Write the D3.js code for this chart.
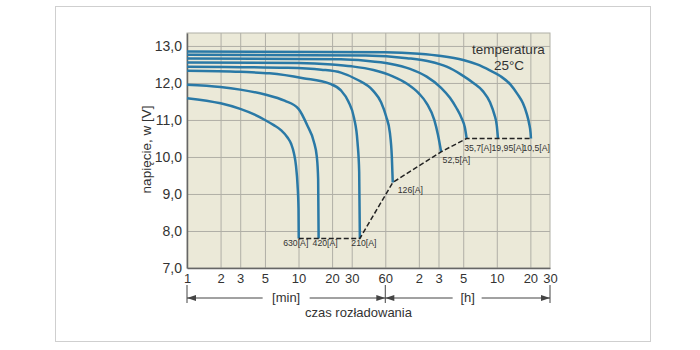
<!DOCTYPE html>
<html><head><meta charset="utf-8">
<script src="https://cdn.jsdelivr.net/npm/d3@7"></script>
<style>
html,body{margin:0;padding:0;background:#fff;}
svg{display:block;font-family:"Liberation Sans",Arial,Helvetica,sans-serif;}
</style></head><body>
<svg id="chart" width="700" height="350"></svg>
<script>
// ---- data (time in minutes, voltage in V) ----
const timeTicks = [1, 2, 3, 5, 10, 20, 30, 60, 120, 180, 300, 600, 1200, 1800];
const timeTickLabels = ["1", "2", "3", "5", "10", "20", "30", "60", "2", "3", "5", "10", "20", "30"];
const voltTicks = [7, 8, 9, 10, 11, 12, 13];
const voltTickLabels = ["7,0", "8,0", "9,0", "10,0", "11,0", "12,0", "13,0"];
const currentLabels = ["630[A]", "420[A]", "210[A]", "126[A]", "52,5[A]", "35,7[A]", "19,95[A]", "10,5[A]"];

const c630 = [[1,11.59],[2,11.45],[3,11.3],[4,11.15],[5,11.0],[6,10.86],[7,10.72],[8,10.52],[8.6,10.35],[9.1,10.1],[9.5,9.75],[9.8,9.25],[10.0,8.6],[10.05,7.8]];
const c420 = [[1,11.95],[2,11.89],[3,11.82],[5,11.69],[7.5,11.52],[10,11.3],[12,10.85],[13.7,10.42],[14.6,10.0],[15.0,9.4],[15.15,7.8]];
const c210 = [[1,12.33],[3,12.3],[5.5,12.26],[11,12.13],[19,11.98],[24,11.8],[28,11.5],[31.5,11.05],[33.8,10.4],[35,9.6],[35.5,7.8]];
const c126 = [[1,12.44],[8,12.41],[16,12.36],[24,12.28],[33,12.1],[47,11.78],[55,11.48],[61,11.1],[66,10.65],[68.7,10.0],[70,9.31]];
const c52_5 = [[1,12.55],[10,12.54],[20,12.5],[30,12.45],[47,12.35],[70,12.18],[94,11.98],[120,11.72],[141,11.45],[165,11.0],[178,10.6],[186,10.3],[190,10.14]];
const c35_7 = [[1,12.66],[24,12.64],[40,12.6],[66,12.52],[100,12.38],[141,12.17],[190,11.87],[228,11.6],[260,11.33],[290,11.05],[310,10.8],[322,10.5]];
const c19_95 = [[1,12.76],[40,12.74],[94,12.67],[150,12.58],[213,12.44],[290,12.22],[370,12.0],[450,11.78],[523,11.47],[570,11.15],[600,10.85],[615,10.5]];
const c10_5 = [[1,12.85],[60,12.83],[120,12.79],[190,12.73],[300,12.62],[400,12.5],[520,12.34],[650,12.18],[800,11.95],[920,11.7],[1030,11.45],[1110,11.18],[1170,10.9],[1205,10.65],[1215,10.5]];
const curves = [c630, c420, c210, c126, c52_5, c35_7, c19_95, c10_5];

// ---- layout ----
const svg = d3.select("#chart");
const x = d3.scaleLog().domain([1, 1800]).range([187, 550]);
const y = d3.scaleLinear().domain([7, 13.35]).range([268, 33]);
const TXT = "#333";
const BLUE = "#2a79a6";
const GRID = "#b0afa6";

// outer frame
svg.append("rect").attr("x", 55.5).attr("y", 6.5).attr("width", 595).attr("height", 335)
  .attr("fill", "none").attr("stroke", "#cfcfcf").attr("stroke-width", 1);

// plot background
svg.append("rect").attr("x", x(1)).attr("y", y(13.35)).attr("width", x(1800) - x(1)).attr("height", y(7) - y(13.35))
  .attr("fill", "#ebe9d8").attr("stroke", GRID).attr("stroke-width", 1);

// grid
const gx = svg.append("g").attr("transform", `translate(0,${y(7)})`)
  .call(d3.axisBottom(x).tickValues(timeTicks.slice(1, -1)).tickSize(-(y(7) - y(13.35))).tickFormat(""));
gx.select(".domain").remove();
gx.selectAll("line").attr("stroke", GRID).attr("stroke-width", 1);
const gy = svg.append("g").attr("transform", `translate(${x(1)},0)`)
  .call(d3.axisLeft(y).tickValues(voltTicks.slice(1)).tickSize(-(x(1800) - x(1))).tickFormat(""));
gy.select(".domain").remove();
gy.selectAll("line").attr("stroke", GRID).attr("stroke-width", 1);

// axes lines + labels
const ax = svg.append("g").attr("transform", `translate(0,${y(7)})`)
  .call(d3.axisBottom(x).tickValues(timeTicks).tickSize(0).tickPadding(6)
    .tickFormat((d, i) => timeTickLabels[i]));
ax.select(".domain").attr("stroke", "#666").attr("stroke-width", 1.5);
ax.selectAll("text").attr("font-size", 13).attr("fill", TXT).attr("font-family", null);

const ay = svg.append("g").attr("transform", `translate(${x(1)},0)`)
  .call(d3.axisLeft(y).tickValues(voltTicks).tickSize(0).tickPadding(5)
    .tickFormat((d, i) => voltTickLabels[i]));
ay.select(".domain").attr("stroke", "#666").attr("stroke-width", 1.5);
ay.selectAll("text").attr("font-size", 14).attr("fill", TXT).attr("font-family", null);

// curves
const line = d3.line().x(d => x(d[0])).y(d => y(d[1])).curve(d3.curveMonotoneX);
svg.append("g").selectAll("path").data(curves).join("path")
  .attr("d", line).attr("fill", "none").attr("stroke", BLUE).attr("stroke-width", 2.5)
  .attr("stroke-linejoin", "round");

// dashed end-point line
const ends = curves.map(c => c[c.length - 1]);
svg.append("path").attr("d", d3.line().x(d => x(d[0])).y(d => y(d[1]))(ends))
  .attr("fill", "none").attr("stroke", "#222").attr("stroke-width", 1.5).attr("stroke-dasharray", "5,2.5");

// current labels (placement offsets relative to curve end)
const place = [
  {dx: -3, dy: 7.5, a: "middle"}, {dx: 6.5, dy: 7.5, a: "middle"}, {dx: 4, dy: 7.5, a: "middle"},
  {dx: 5, dy: 10.5, a: "start"}, {dx: 1.5, dy: 11, a: "start"},
  {dx: -2.5, dy: 13, a: "start"}, {dx: -6.5, dy: 13, a: "start"}, {dx: -8.5, dy: 13, a: "start"}
];
svg.append("g").selectAll("text").data(currentLabels).join("text")
  .attr("x", (d, i) => x(ends[i][0]) + place[i].dx)
  .attr("y", (d, i) => y(ends[i][1]) + place[i].dy)
  .attr("text-anchor", (d, i) => place[i].a)
  .attr("font-size", 8.7).attr("fill", TXT).text(d => d);

// temperature note
svg.append("text").attr("x", 508.5).attr("y", 54).attr("text-anchor", "middle")
  .attr("font-size", 13.5).attr("fill", TXT).text("temperatura");
svg.append("text").attr("x", 509).attr("y", 70).attr("text-anchor", "middle")
  .attr("font-size", 13.5).attr("fill", TXT).text("25°C");

// y axis title
svg.append("text").attr("transform", `translate(151,${(y(7) + y(13.35)) / 2 - 1}) rotate(-90)`)
  .attr("text-anchor", "middle").attr("font-size", 13.5).attr("fill", TXT).text("napięcie, w [V]");

// unit arrows below the axis
const ARROWY = 298, AC = "#444";
const ga = svg.append("g");
[1, 60, 1800].forEach(t => {
  ga.append("line").attr("x1", x(t)).attr("x2", x(t)).attr("y1", 285).attr("y2", 303)
    .attr("stroke", AC).attr("stroke-width", 1);
});
function arrowSeg(xa, xb, headAt) {
  ga.append("line").attr("x1", xa).attr("x2", xb).attr("y1", ARROWY).attr("y2", ARROWY)
    .attr("stroke", AC).attr("stroke-width", 1);
  const dir = headAt === xa ? 1 : -1;
  ga.append("path").attr("d", `M${headAt},${ARROWY} L${headAt + dir * 9},${ARROWY - 3} L${headAt + dir * 9},${ARROWY + 3} Z`)
    .attr("fill", AC);
}
const mMin = (x(1) + x(60)) / 2, mH = (x(60) + x(1800)) / 2;
arrowSeg(x(1), mMin - 23.5, x(1));
arrowSeg(mMin + 23.5, x(60), x(60));
arrowSeg(x(60), mH - 15, x(60));
arrowSeg(mH + 14, x(1800), x(1800));
ga.append("text").attr("x", mMin).attr("y", 302).attr("text-anchor", "middle").attr("font-size", 13).attr("fill", TXT).text("[min]");
ga.append("text").attr("x", mH).attr("y", 302).attr("text-anchor", "middle").attr("font-size", 13).attr("fill", TXT).text("[h]");
svg.append("text").attr("x", 358.5).attr("y", 316.5).attr("text-anchor", "middle").attr("font-size", 13).attr("fill", TXT).text("czas rozładowania");
</script>
</body></html>
